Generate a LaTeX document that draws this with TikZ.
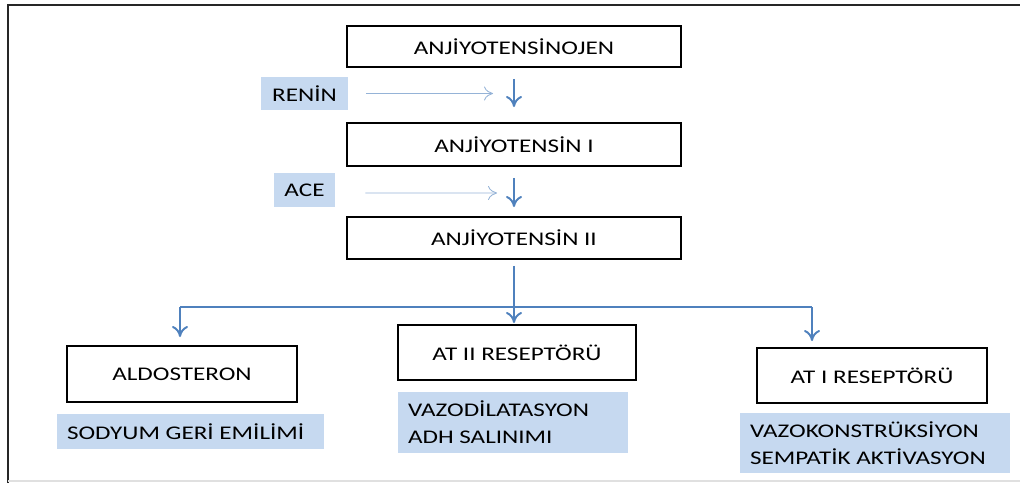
\documentclass[tikz,border=0pt]{standalone}
\usepackage{fontspec}
\setmainfont{Carlito}[FakeStretch=1.3]
\usetikzlibrary{arrows.meta}

\definecolor{notefill}{RGB}{198,217,240}
\definecolor{flowblue}{RGB}{79,129,189}
\definecolor{enzblue}{RGB}{149,179,215}

\begin{document}
\begin{tikzpicture}[x=0.02cm,y=-0.02cm,every node/.style={font=\fontsize{11}{15.4}\selectfont,inner sep=0pt}]
	
	
	\tikzstyle{box}=[rectangle,draw=black,line width=1.1pt,fill=white,minimum width=66.8mm]
	\tikzstyle{small box}=[box,minimum width=46mm,minimum height=11mm]
	\tikzstyle{note}=[rectangle,fill=notefill,align=flush left,inner xsep=2mm]
	\tikzstyle{enzyme}=[rectangle,fill=notefill,align=center]
	\tikzstyle{flow}=[draw=flowblue,line width=1.1pt,-{To[length=2.2mm,width=3.2mm]}]
	\tikzstyle{enzline}=[draw=enzblue,line width=0.5pt,-{To[length=1.8mm,width=2.8mm]}]
	
	\useasboundingbox (0,0) rectangle (1020,483);
	
	% frame
	\draw[black!85, line width=1.1pt] (1020,5) -- (8,5) -- (8,483);
	\draw[black!12, line width=0.8pt] (8,481) -- (1020,481);
	
	% main chain:
	\node [box,minimum height=8.2mm] at (514,46.5) (aog) {ANJİYOTENSİNOJEN};
	\node [box,minimum height=8.6mm] at (514,144.5) (a1) {ANJİYOTENSİN I};
	\node [box,minimum height=8.4mm] at (514,238) (a2) {ANJİYOTENSİN II};
	
	% enzymes:
	\node [enzyme,minimum width=17.4mm,minimum height=6.6mm] at (304.5,93.5) (renin) {RENİN};
	\node [enzyme,minimum width=12.2mm,minimum height=6.8mm] at (304.5,190) (ace) {ACE};
	\coordinate (renin end) at (493,93.5);
	\coordinate (ace end) at (497,193);
	\draw[enzline] ([xshift=3.6mm]renin.east) -- (renin end);
	\draw[enzline] ([xshift=6mm,yshift=-0.6mm]ace.east) -- (ace end);
	
	\draw[flow,shorten <=2.2mm,shorten >=3mm] (aog.south) -- (a1.north);
	\draw[flow,shorten <=2.2mm,shorten >=1.8mm] (a1.south) -- (a2.north);
	
	% receptors:
	\node [small box,minimum height=11.2mm] at (182,374) (ald) {ALDOSTERON};
	\node [small box,minimum width=47.6mm] at (517,352.5) (at2) {AT II RESEPTÖRÜ};
	\node [small box] at (872,375.5) (at1) {AT I RESEPTÖRÜ};
	
	\node [note,text width=49.4mm,minimum height=7mm] at (190.5,431.5) (sod) {SODYUM GERİ EMİLİMİ};
	\node [note,text width=42mm,minimum height=12.2mm] at (513,422.5) (vazod) {VAZODİLATASYON\\ADH SALINIMI};
	\node [note,text width=50mm,minimum height=12mm] at (875,443) (vazok) {VAZOKONSTRÜKSİYON\\SEMPATİK AKTİVASYON};
	
	% branches:
	\coordinate (lt) at (180,307);
	\coordinate (rt) at (812,307);
	\draw[flow,shorten <=1.2mm,shorten >=0.2mm] (a2.south) -- (a2.south |- at2.north);
	\draw[draw=flowblue,line width=1.1pt] (lt) -- (rt);
	\draw[flow,shorten >=1.6mm] (lt) -- (lt |- ald.north);
	\draw[flow,shorten >=1.2mm] (rt) -- (rt |- at1.north);
	
	
\end{tikzpicture}
\end{document}
